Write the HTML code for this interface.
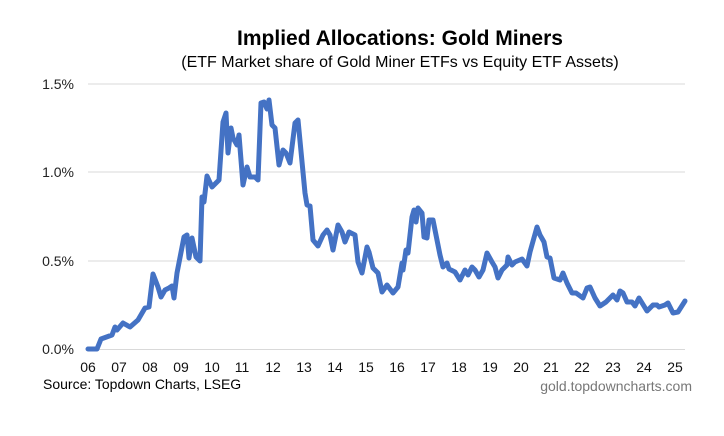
<!DOCTYPE html>
<html><head><meta charset="utf-8"><style>
body{margin:0;background:#fff;width:724px;height:431px;overflow:hidden;font-family:"Liberation Sans",Arial,sans-serif}
</style></head><body>
<svg width="724" height="431" xmlns="http://www.w3.org/2000/svg" font-family="Liberation Sans, Arial, sans-serif">
<text x="400" y="45" text-anchor="middle" font-size="21" font-weight="bold" fill="#000">Implied Allocations: Gold Miners</text>
<text x="400" y="67" text-anchor="middle" font-size="16" fill="#000">(ETF Market share of Gold Miner ETFs vs Equity ETF Assets)</text>
<g stroke="#d9d9d9" stroke-width="1">
<line x1="88" y1="84" x2="685" y2="84"/><line x1="88" y1="172" x2="685" y2="172"/><line x1="88" y1="261" x2="685" y2="261"/><line x1="88" y1="349.5" x2="685" y2="349.5"/>
</g>
<g font-size="14" fill="#222" text-anchor="end">
<text x="74" y="89">1.5%</text><text x="74" y="177">1.0%</text><text x="74" y="266">0.5%</text><text x="74" y="354">0.0%</text>
</g>
<g font-size="14" fill="#111" text-anchor="middle">
<text x="88" y="372">06</text><text x="119" y="372">07</text><text x="150" y="372">08</text><text x="181" y="372">09</text><text x="212" y="372">10</text><text x="242" y="372">11</text><text x="273" y="372">12</text><text x="304" y="372">13</text><text x="335" y="372">14</text><text x="366" y="372">15</text><text x="397" y="372">16</text><text x="428" y="372">17</text><text x="459" y="372">18</text><text x="490" y="372">19</text><text x="521" y="372">20</text><text x="551" y="372">21</text><text x="582" y="372">22</text><text x="613" y="372">23</text><text x="644" y="372">24</text><text x="675" y="372">25</text>
</g>
<text x="43" y="389" font-size="14" fill="#000">Source: Topdown Charts, LSEG</text>
<text x="692" y="391" font-size="14" fill="#777" text-anchor="end">gold.topdowncharts.com</text>
<polyline fill="none" stroke="#4472C4" stroke-width="5" stroke-linejoin="round" stroke-linecap="round" points="88,349 97,349 101,339 112,335 115,327 117,330 123,323 130,327 138,320 145,308 149,307 153,274 158,287 161,297 165,290 169,288 172,286 174,298 177,273 184,237 187,235 189,258 192,238 196,257 200,261 202,197 204,202 207,176 212,187 217,182 219,180 223,122 226,113 228,153 231,128 233,138 237,145 239,135 243,185 247,167 250,177 255,177 258,180 261,103 264,102 267,109 269,100 272,125 275,128 279,165 283,150 286,153 290,163 295,123 298,120 305,193 307,205 310,206 313,240 318,246 323,235 327,230 330,235 333,250 338,225 342,232 345,242 349,232 355,235 358,262 362,273 367,247 369,252 373,268 378,273 382,292 387,285 393,293 398,287 402,263 403,270 406,250 408,253 412,217 414,210 416,222 418,208 422,213 424,237 427,238 429,220 433,220 436,235 440,255 443,267 447,263 449,269 455,272 460,280 465,270 468,275 472,267 475,270 479,277 483,270 487,253 492,262 495,267 498,278 502,270 507,265 508,257 512,265 515,262 522,259 527,266 530,252 537,227 540,235 544,242 547,257 550,258 554,278 560,280 563,273 567,283 572,293 576,293 583,298 587,288 590,287 595,298 600,306 606,302 613,295 617,300 620,291 623,293 627,302 632,302 635,306 639,298 647,311 653,305 657,305 659,307 665,305 668,303 673,313 678,312 685,301"/>
</svg>
</body></html>
